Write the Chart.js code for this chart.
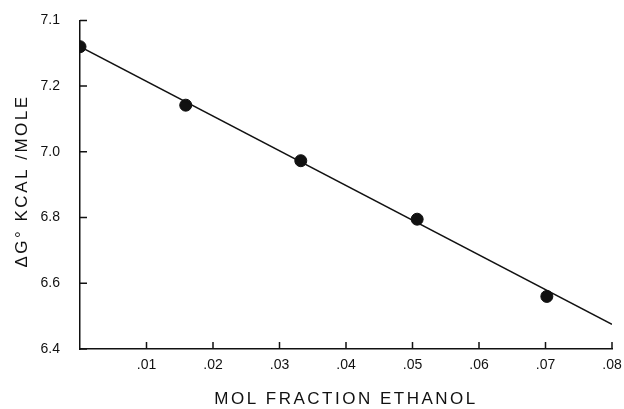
<!DOCTYPE html>
<html>
<head>
<meta charset="utf-8">
<script src="https://cdn.jsdelivr.net/npm/chart.js@4"></script>
<style>
  html, body { margin: 0; padding: 0; background: #fff; }
  #wrap { width: 624px; height: 409px; }
</style>
</head>
<body>
<div id="wrap"><canvas id="c"></canvas></div>
<script>
// measured points
const molFraction = [0, 0.0159, 0.0332, 0.0507, 0.0702];
const deltaG = [7.32, 7.142, 6.973, 6.795, 6.56];
// fitted line end points
const fitX = [0, 0.08];
const fitY = [7.32, 6.475];
// axis ticks
const xTicks = [0.01, 0.02, 0.03, 0.04, 0.05, 0.06, 0.07, 0.08];
const xTickLabels = ['.01', '.02', '.03', '.04', '.05', '.06', '.07', '.08'];
const yTicks = [6.4, 6.6, 6.8, 7.0, 7.2, 7.4];
const yTickLabels = ['6.4', '6.6', '6.8', '7.0', '7.2', '7.1'];
const xTitle = 'MOL FRACTION ETHANOL';
const yTitle = 'ΔG° KCAL /MOLE';

const ink = '#111';
const font = 'Liberation Sans, Arial, sans-serif';

// inward tick marks + letter-spaced axis titles
const decorations = {
  id: 'decorations',
  afterDraw(chart) {
    const ctx = chart.ctx;
    const x = chart.scales.x, y = chart.scales.y;
    const a = chart.chartArea;
    ctx.save();
    ctx.strokeStyle = ink;
    ctx.lineWidth = 1.5;
    ctx.beginPath();
    xTicks.forEach(v => {
      const px = x.getPixelForValue(v);
      ctx.moveTo(px, a.bottom);
      ctx.lineTo(px, a.bottom - 7);
    });
    yTicks.forEach(v => {
      const py = y.getPixelForValue(v);
      ctx.moveTo(a.left, py);
      ctx.lineTo(a.left + 7, py);
    });
    ctx.stroke();

    ctx.fillStyle = ink;
    ctx.textAlign = 'center';
    ctx.textBaseline = 'middle';
    ctx.font = '17px ' + font;
    ctx.letterSpacing = '2.5px';
    ctx.fillText(xTitle, 346, 399);

    ctx.letterSpacing = '2.5px';
    ctx.translate(22, 181);
    ctx.rotate(-Math.PI / 2);
    ctx.fillText(yTitle, 0, 0);
    ctx.restore();
  }
};

new Chart(document.getElementById('c'), {
  type: 'scatter',
  data: {
    datasets: [
      {
        label: 'fit',
        data: fitX.map((v, i) => ({ x: v, y: fitY[i] })),
        showLine: true,
        borderColor: ink,
        borderWidth: 1.5,
        pointRadius: 0
      },
      {
        label: 'data',
        data: molFraction.map((v, i) => ({ x: v, y: deltaG[i] })),
        backgroundColor: ink,
        borderColor: ink,
        pointRadius: 6
      }
    ]
  },
  options: {
    responsive: true,
    maintainAspectRatio: false,
    animation: false,
    layout: { padding: { top: 16, right: 12, left: 0, bottom: 0 } },
    plugins: { legend: { display: false }, tooltip: { enabled: false } },
    scales: {
      x: {
        type: 'linear',
        min: 0,
        max: 0.08,
        afterBuildTicks: s => { s.ticks = xTicks.map(v => ({ value: v })); },
        afterFit: s => { s.height = 60; },
        grid: { display: false },
        border: { display: true, color: ink, width: 1.5 },
        ticks: {
          color: ink,
          font: { family: font, size: 14 },
          padding: 0,
          maxRotation: 0,
          callback: v => xTickLabels[xTicks.indexOf(v)]
        }
      },
      y: {
        type: 'linear',
        min: 6.4,
        max: 7.4,
        afterBuildTicks: s => { s.ticks = yTicks.map(v => ({ value: v })); },
        afterFit: s => { s.width = 80; },
        grid: { display: false },
        border: { display: true, color: ink, width: 1.5 },
        ticks: {
          color: ink,
          font: { family: font, size: 14 },
          padding: 12,
          callback: v => yTickLabels[yTicks.findIndex(t => Math.abs(t - v) < 1e-9)]
        }
      }
    }
  },
  plugins: [decorations]
});
</script>
</body>
</html>
